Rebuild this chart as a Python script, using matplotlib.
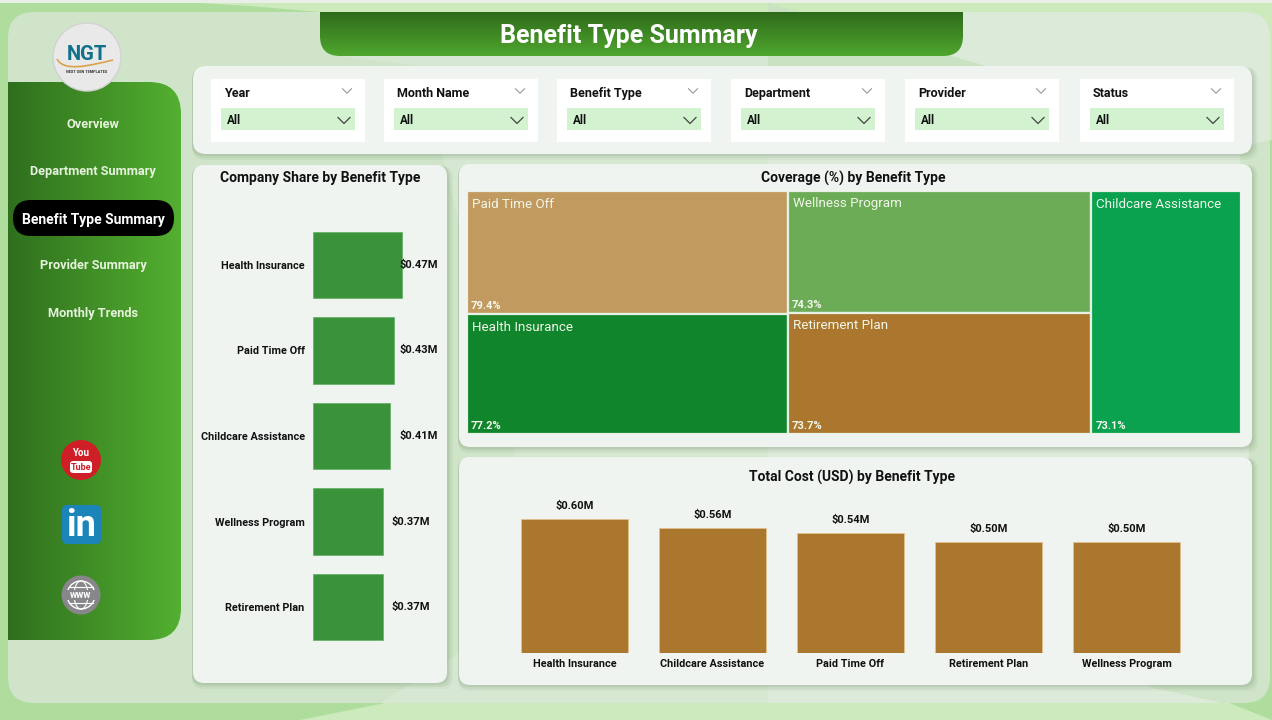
import numpy as np
import matplotlib
matplotlib.use("Agg")
import matplotlib.pyplot as plt
from matplotlib.patches import Circle, Ellipse, PathPatch, Polygon, Rectangle
from matplotlib.path import Path
from matplotlib.colors import LinearSegmentedColormap

# data
share_types = ["Health Insurance", "Paid Time Off", "Childcare Assistance", "Wellness Program", "Retirement Plan"]
share_values = [0.47, 0.43, 0.41, 0.37, 0.37]

cost_types = ["Health Insurance", "Childcare Assistance", "Paid Time Off", "Retirement Plan", "Wellness Program"]
cost_values = [0.60, 0.56, 0.54, 0.50, 0.50]

# treemap columns, biggest first
cov_col1 = ["Paid Time Off", "Health Insurance"]
cov_col1_vals = [79.4, 77.2]
cov_col2 = ["Wellness Program", "Retirement Plan"]
cov_col2_vals = [74.3, 73.7]
cov_col3 = ["Childcare Assistance"]
cov_col3_vals = [73.1]
cov_colors = {"Paid Time Off": "#c19a5f", "Health Insurance": "#11852b", "Wellness Program": "#6dac57",
              "Retirement Plan": "#ab772e", "Childcare Assistance": "#0aa14f"}

slicers = ["Year", "Month Name", "Benefit Type", "Department", "Provider", "Status"]
menu = ["Overview", "Department Summary", "Benefit Type Summary", "Provider Summary", "Monthly Trends"]

W, H = 1272, 720
plt.rcParams["font.family"] = ["Roboto", "DejaVu Sans"]
TXT = "#111111"

fig = plt.figure(figsize=(W / 100, H / 100), dpi=100)
bg = fig.add_axes([0, 0, 1, 1])
bg.set_xlim(0, W)
bg.set_ylim(H, 0)
bg.axis("off")


# rounded box, radii go top-left, top-right, bottom-right, bottom-left
def roundBox(x0, y0, x1, y1, r):
    tl, tr, br, bl = r if isinstance(r, (list, tuple)) else (r, r, r, r)
    verts = [(x0 + tl, y0), (x1 - tr, y0), (x1, y0), (x1, y0 + tr), (x1, y1 - br), (x1, y1),
             (x1 - br, y1), (x0 + bl, y1), (x0, y1), (x0, y1 - bl), (x0, y0 + tl), (x0, y0), (x0 + tl, y0)]
    codes = [Path.MOVETO, Path.LINETO, Path.CURVE3, Path.CURVE3, Path.LINETO, Path.CURVE3, Path.CURVE3,
             Path.LINETO, Path.CURVE3, Path.CURVE3, Path.LINETO, Path.CURVE3, Path.CURVE3]
    return Path(verts, codes)


def box(x0, y0, x1, y1, r, color, z=1, alpha=1):
    p = PathPatch(roundBox(x0, y0, x1, y1, r), fc=color, ec="none", zorder=z, alpha=alpha)
    bg.add_patch(p)
    return p


def gradientBox(x0, y0, x1, y1, r, c0, c1, vertical=False, z=2):
    cmap = LinearSegmentedColormap.from_list("g", [c0, c1])
    g = np.linspace(0, 1, 256)
    g = g[:, None] if vertical else g[None, :]
    im = bg.imshow(g, cmap=cmap, extent=[x0, x1, y1, y0], aspect="auto", zorder=z)
    im.set_clip_path(PathPatch(roundBox(x0, y0, x1, y1, r), transform=bg.transData))


def panel(x0, y0, x1, y1, r=11, color="#f0f4f1"):
    for k, a in [(6, 0.05), (4, 0.07), (2, 0.09)]:
        box(x0 - 1, y0 + 1, x1 + k, y1 + k, r, "#3c5f38", z=3, alpha=a)
    box(x0, y0, x1, y1, r, color, z=3.2)


# page background
bg.add_patch(Rectangle((0, 0), W, H, fc="#aedd9e", ec="none", zorder=0))
bg.add_patch(Polygon([(200, 3), (250, 6), (320, 12), (768, 12), (768, 147), (1240, 147), (W, 140), (W, 3)],
                     fc="#cdeabd", ec="none", zorder=0.2))
bg.add_patch(Polygon([(300, 720), (400, 700), (1222, 700), (W, 720)], fc="#cdeabd", ec="none", zorder=0.2))
bg.add_patch(Rectangle((0, 0), W, 3, fc="#e9efe8", ec="none", zorder=0.5))

# inner page with its lighter facets
box(8, 12, 1270, 703, 26, "#cfe4c8", z=1)
facet = roundBox(8, 12, 1270, 703, 26)
light = Polygon([(330, 55), (420, 66), (515, 447), (480, 640), (380, 703), (768, 703), (768, 12), (330, 12)],
                fc="#d7e8d2", ec="none", zorder=1.1)
bg.add_patch(light)
lighter = Polygon([(768, 12), (1270, 12), (1270, 140), (1240, 147), (1252, 560), (1150, 687), (1222, 703), (768, 703)],
                  fc="#dcebd9", ec="none", zorder=1.2)
bg.add_patch(lighter)
lighter.set_clip_path(PathPatch(facet, transform=bg.transData))
bg.add_patch(Polygon([(768, 3), (1000, 70), (768, 70)], fc="#c9e3c2", ec="none", zorder=1.3))

# sidebar and title tab
gradientBox(8, 82, 181, 640, [0, 32, 32, 0], "#2f6f1e", "#53b030")
gradientBox(320, 12, 963, 56, [0, 0, 20, 20], "#2f6a1c", "#4fa72e", vertical=True)
bg.text(629, 36, "Benefit Type Summary", color="white", fontsize=18, fontweight="bold",
        ha="center", va="center", zorder=5)

# menu
box(13, 200, 174, 236, 18, "black", z=3)
menu_y = [124, 172, 220, 266, 313]
for name, y in zip(menu, menu_y):
    active = name == "Benefit Type Summary"
    bg.text(93, y, name, color="white" if active else "#e6f3dc", fontsize=10 if active else 9.2,
            fontweight="bold", ha="center", va="center", zorder=5)

# logo
bg.add_patch(Circle((87, 57), 34, fc="#e9e9e9", ec="#d2d2d2", lw=1, zorder=4))
bg.text(87, 55, "NGT", color="#12708a", fontsize=14.5, fontweight="bold", ha="center", va="center", zorder=5)
swoosh = Path([(57, 59), (64, 72), (88, 66), (113, 60)], [Path.MOVETO, Path.CURVE4, Path.CURVE4, Path.CURVE4])
bg.add_patch(PathPatch(swoosh, fc="none", ec="#d9a24a", lw=1.2, zorder=4.5))
bg.text(87, 72, "NEXT GEN TEMPLATES", color="#333333", fontsize=2.8, fontweight="bold",
        ha="center", va="center", zorder=5)

# social icons
bg.add_patch(Circle((81, 460), 20, fc="#cf1f26", ec="none", zorder=4))
bg.text(81, 453, "You", color="white", fontsize=7, fontweight="bold", ha="center", va="center", zorder=5)
box(70, 461, 92, 473, 3, "white", z=4.5)
bg.text(81, 467, "Tube", color="#cf1f26", fontsize=6.5, fontweight="bold", ha="center", va="center", zorder=5)

box(62, 505, 101, 544, 5, "#1b84b9", z=4)
bg.text(81.5, 526, "in", color="white", fontsize=26, fontweight="bold", ha="center", va="center", zorder=5)

bg.add_patch(Circle((81, 595), 19.5, fc="#87868a", ec="none", zorder=4))
bg.add_patch(Circle((81, 595), 14, fc="none", ec="white", lw=1, zorder=4.5))
bg.add_patch(Ellipse((81, 595), 14, 28, fc="none", ec="white", lw=0.8, zorder=4.5))
bg.plot([69, 93], [587, 587], color="white", lw=0.8, zorder=4.5)
bg.plot([69, 93], [603, 603], color="white", lw=0.8, zorder=4.5)
bg.add_patch(Rectangle((66, 590), 30, 10, fc="#87868a", ec="none", zorder=4.6))
bg.text(81, 595, "www", color="white", fontsize=7, fontweight="bold", ha="center", va="center", zorder=5)

# slicers
panel(193, 66, 1252, 154, r=13)
card_x = [(211, 365), (384, 538), (557, 711), (731, 885), (905, 1059), (1080, 1234)]


def chevron(cx, cy, size, color, lw=0.8):
    bg.plot([cx - size, cx, cx + size], [cy - size * 0.5, cy + size * 0.5, cy - size * 0.5],
            color=color, lw=lw, zorder=6)


for name, (x0, x1) in zip(slicers, card_x):
    bg.add_patch(Rectangle((x0, 79), x1 - x0, 63, fc="white", ec="none", zorder=4))
    bg.add_patch(Rectangle((x0 + 10, 108), x1 - x0 - 20, 22, fc="#d2f2d0", ec="none", zorder=4.5))
    bg.text(x0 + 13, 97, name, color=TXT, fontsize=9, fontweight="bold", ha="left", va="baseline", zorder=6)
    bg.text(x0 + 16, 124, "All", color=TXT, fontsize=8.4, fontweight="bold", ha="left", va="baseline", zorder=6)
    chevron(x1 - 18, 91, 4.5, "#9a9a9a")
    chevron(x1 - 21, 120.5, 6, "#444444", lw=0.9)

# chart cards
panel(193, 165, 447, 683)
panel(459, 164, 1252, 447)
panel(459, 457, 1252, 685)
bg.text(320, 178, "Company Share by Benefit Type", color=TXT, fontsize=10, fontweight="bold",
        ha="center", va="center", zorder=6)
bg.text(853, 178, "Coverage (%) by Benefit Type", color=TXT, fontsize=10, fontweight="bold",
        ha="center", va="center", zorder=6)
bg.text(852, 477, "Total Cost (USD) by Benefit Type", color=TXT, fontsize=10, fontweight="bold",
        ha="center", va="center", zorder=6)


def insetAxes(x0, y0, x1, y1):
    a = fig.add_axes([x0 / W, 1 - y1 / H, (x1 - x0) / W, (y1 - y0) / H])
    a.patch.set_alpha(0)
    for s in a.spines.values():
        s.set_visible(False)
    a.set_zorder(10)
    return a


# company share, horizontal bars
ax1 = insetAxes(313, 222, 440, 650)
px_per_unit = 189.0
ax1.set_xlim(0, 127 / px_per_unit)
y1 = np.arange(len(share_types))
ax1.barh(y1, share_values, height=0.775, color="#3a923a", edgecolor="#6bb36b", linewidth=0.6)
ax1.set_ylim(len(share_types) - 0.5, -0.5)
ax1.set_xticks([])
ax1.set_yticks(y1, share_types)
ax1.tick_params(axis="y", length=0, pad=6, labelsize=7.8)
for lab in ax1.get_yticklabels():
    lab.set_fontweight("bold")
    lab.set_color(TXT)
for i, v in enumerate(share_values):
    # labels slide up against the right side of the plot area
    lx = min(v + 9 / px_per_unit, 87 / px_per_unit)
    ax1.text(lx, i, f"${v:.2f}M", color=TXT, fontsize=8, fontweight="bold", ha="left", va="center")

# treemap, column widths and row heights come from the values
ax2 = insetAxes(467, 191, 1241, 434)
columns = [(cov_col1, cov_col1_vals), (cov_col2, cov_col2_vals), (cov_col3, cov_col3_vals)]
total = sum(sum(v) for _, v in columns)
ax2.set_xlim(0, total)
ax2.set_ylim(1, 0)
ax2.set_xticks([])
ax2.set_yticks([])
left = 0
for names, vals in columns:
    top = 0
    for name, val in zip(names, vals):
        h = val / sum(vals)
        ax2.add_patch(Rectangle((left, top), sum(vals), h, fc=cov_colors[name], ec="#e6f3e4", lw=1.6))
        ax2.annotate(name, (left, top), xytext=(5, -13), textcoords="offset pixels", color="#f1f7ea",
                     fontsize=9.6, ha="left", va="center")
        ax2.annotate(f"{val:.1f}%", (left, top + h), xytext=(4, 8), textcoords="offset pixels",
                     color="#f5f8ee", fontsize=8, fontweight="bold", ha="left", va="center")
        top += h
    left += sum(vals)

# total cost, vertical bars, one slot is 138 px wide
ax3 = insetAxes(452, 495, 1249, 653)
x3 = np.arange(len(cost_types))
ax3.set_xlim((452 - 574.5) / 138, (1249 - 574.5) / 138)
ax3.set_ylim(0, 158 / 223.0)
ax3.bar(x3, cost_values, width=0.775, color="#ab772e", edgecolor="#e3c08e", linewidth=0.6)
ax3.set_yticks([])
ax3.set_xticks(x3, cost_types)
ax3.tick_params(axis="x", length=0, pad=4, labelsize=7.8)
for lab in ax3.get_xticklabels():
    lab.set_fontweight("bold")
    lab.set_color(TXT)
for i, v in enumerate(cost_values):
    ax3.annotate(f"${v:.2f}M", (i, v), xytext=(0, 13), textcoords="offset pixels", color=TXT,
                 fontsize=8, fontweight="bold", ha="center", va="center")

bg.set_xlim(0, W)
bg.set_ylim(H, 0)
fig.savefig("out.png", dpi=100)
